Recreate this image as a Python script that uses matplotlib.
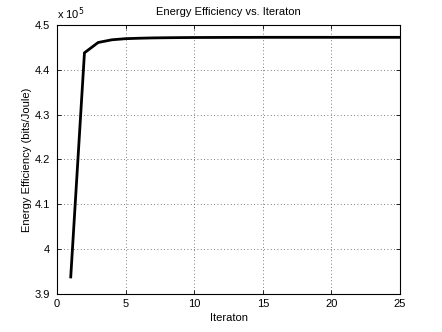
import matplotlib
matplotlib.use("Agg")
import matplotlib.pyplot as plt

iterations = list(range(1, 26))
efficiency = [3.938, 4.438, 4.461, 4.467, 4.4695, 4.4705, 4.4712, 4.4716, 4.4719, 4.4721,
              4.4722, 4.4723, 4.4724, 4.4724, 4.4725, 4.4725, 4.4725, 4.4725, 4.4725, 4.4725,
              4.4725, 4.4725, 4.4725, 4.4725, 4.4725]
xticks = [0, 5, 10, 15, 20, 25]
yticks = [3.9, 4.0, 4.1, 4.2, 4.3, 4.4, 4.5]
ytick_labels = ["3.9", "4", "4.1", "4.2", "4.3", "4.4", "4.5"]

plt.rcParams['font.family'] = ['Liberation Sans', 'DejaVu Sans']
fig = plt.figure(figsize=(4.42, 3.32), dpi=100)
ax = fig.add_axes([0.129, 0.1145, 0.776, 0.8102])
ax.plot(iterations, efficiency, color='black', linewidth=2)
ax.set_xlim(0, 25)
ax.set_ylim(3.9, 4.5)
ax.set_xticks(xticks)
ax.set_yticks(yticks)
ax.set_yticklabels(ytick_labels)
ax.tick_params(direction='in', labelsize=8, length=3, width=0.6, top=True, right=True)
ax.tick_params(axis='y', pad=5)
ax.grid(True, linestyle=(0, (1, 3)), color='#555555', linewidth=0.6)
for s in ax.spines.values():
    s.set_linewidth(0.8)
ax.set_title('Energy Efficiency vs. Iteraton', fontsize=8, pad=7)
ax.set_xlabel('Iteraton', fontsize=8, labelpad=3)
ax.set_ylabel('Energy Efficiency (bits/Joule)', fontsize=8, labelpad=2)
ax.text(0.0, 1.01, r'x 10$^5$', transform=ax.transAxes, fontsize=8, ha='left', va='bottom')
fig.savefig('out.png', dpi=100)
